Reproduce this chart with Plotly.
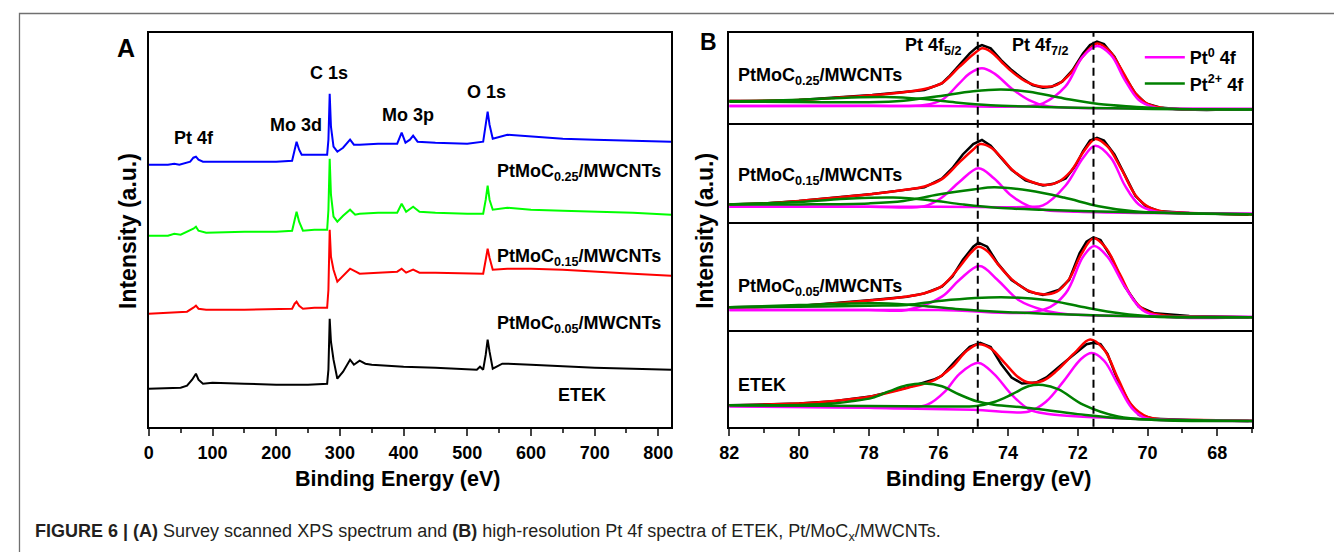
import plotly.graph_objects as go

W, H = 1342, 552
OFF = 8  # default page margin of the html body

# ---------------- Panel A : survey spectra (binding energy eV, intensity a.u. incl. stacking offset)
etek_sv_ev = [0, 40, 50, 60, 68, 74, 78, 85, 100, 150, 200, 250, 280, 282, 284, 286, 290, 296, 305, 316,
              322, 331, 340, 350, 400, 450, 500, 515, 520, 525, 529, 532, 535, 540, 555, 563, 600, 700, 820]
etek_sv = [38, 39, 39, 41, 47, 53, 47, 43, 44, 43, 42, 42, 43, 57, 108, 85, 67, 48, 55, 67,
           62, 66, 63, 62, 60, 59, 57, 57, 60, 57, 72, 87, 75, 58, 63, 63, 62, 59, 57]

m05_sv_ev = [0, 40, 60, 70, 74, 78, 90, 150, 200, 225, 229, 232, 236, 242, 260, 280, 282, 284, 286, 290,
             296, 305, 316, 325, 331, 360, 390, 397, 404, 415, 425, 450, 500, 525, 529, 532, 535, 540, 563, 600,
             650, 700, 760, 820]
m05_sv = [113, 114, 115, 119, 121, 118, 117, 117, 118, 118, 123, 125, 121, 118, 119, 119, 137, 197, 170, 157,
          145, 151, 158, 155, 153, 154, 155, 158, 154, 157, 154, 154, 153, 153, 167, 178, 169, 157, 158, 158,
          157, 155, 153, 151]

m15_sv_ev = [0, 30, 40, 50, 70, 74, 78, 90, 150, 200, 225, 229, 232, 236, 242, 260, 280, 282, 284, 286,
             290, 296, 305, 316, 324, 331, 360, 390, 397, 404, 415, 425, 450, 500, 525, 529, 532, 535, 540, 563,
             600, 650, 700, 760, 820]
m15_sv = [191, 191, 193, 192, 198, 200, 196, 194, 195, 195, 196, 207, 215, 205, 196, 197, 197, 217, 268, 232,
          210, 205, 211, 217, 212, 213, 214, 214, 223, 215, 220, 215, 214, 213, 213, 227, 241, 227, 217, 219,
          217, 216, 215, 214, 212]

m25_sv_ev = [0, 30, 40, 48, 65, 70, 74, 78, 85, 100, 150, 200, 225, 229, 232, 236, 240, 250, 270, 280,
             282, 284, 286, 290, 296, 305, 316, 322, 331, 360, 390, 397, 403, 410, 415, 422, 450, 500, 525, 529,
             532, 535, 540, 563, 600, 650, 700, 760, 820]
m25_sv = [262, 262, 263, 262, 265, 269, 270, 267, 265, 265, 265, 265, 266, 277, 285, 277, 272, 272, 272, 272,
          287, 333, 300, 280, 275, 279, 287, 282, 282, 283, 283, 294, 284, 287, 291, 285, 284, 283, 285, 302,
          315, 302, 288, 292, 290, 288, 287, 286, 285]

survey_ticks = [0, 100, 200, 300, 400, 500, 600, 700, 800]

# ---------------- Panel B : Pt 4f high resolution (eV, normalised intensity per sub-panel)
m25_raw_ev = [82, 81, 80, 79, 77.9, 76.9, 76.4, 75.9, 75.7, 75.4, 75.1, 74.9, 74.75, 74.5, 74.2, 73.9, 73.6, 73.3,
              73.0, 72.75, 72.45, 72.15, 71.85, 71.65, 71.45, 71.25, 70.95, 70.65, 70.35, 70.05, 69.65, 69.0,
              68.3, 67.8, 67.1]
m25_raw = [24.1, 24.1, 25.2, 27.8, 30.7, 34.4, 36.3, 43.7, 51.1, 64.1, 77.0, 83.7, 86.3, 82.6, 69.6, 58.5, 49.3, 41.9,
           38.9, 40.0, 45.6, 58.5, 77.0, 86.3, 90.0, 87.4, 73.3, 51.1, 32.6, 21.5, 17.0, 14.8, 14.1, 14.8, 14.8]
m25_fit_ev = [82, 81, 80, 79, 77.9, 76.9, 76.4, 75.9, 75.4, 74.9, 74.75, 74.5, 74.2, 73.9, 73.5, 73.0, 72.6, 72.2,
              71.85, 71.45, 71.1, 70.7, 70.35, 70.0, 69.6, 69.0, 68, 67]
m25_fit = [24.1, 24.4, 25.3, 27.5, 30.5, 34.5, 37.5, 44, 62, 79, 82.6, 79, 68, 57, 46, 40, 42, 55,
           74, 88, 80, 56, 33, 21, 16.5, 15, 14.6, 14.6]
m25_pt0a_ev = [82, 78, 76.4, 75.9, 75.4, 75.1, 74.75, 74.4, 73.9, 73.4, 72.9, 72.4, 70, 67]
m25_pt0a = [18.5, 18.8, 19.6, 25.2, 43.7, 54.8, 60.4, 54.8, 38.1, 25.2, 18.5, 17, 15.8, 15.6]
m25_pt0b_ev = [82, 76, 73.4, 73.0, 72.36, 71.86, 71.45, 71.05, 70.65, 70.25, 69.8, 69.3, 68, 67]
m25_pt0b = [18.5, 18.5, 18.5, 21.5, 40, 73.3, 85.2, 75.2, 47.4, 25.2, 17, 15.2, 14.8, 14.8]
m25_pt2a_ev = [82, 80, 78, 77, 76, 75, 74.2, 73.4, 72.4, 71.4, 70.4, 69.3, 67]
m25_pt2a = [23.3, 23.0, 22.8, 24.5, 29.5, 35, 37, 34.4, 27, 20.7, 17.8, 15.6, 14.8]
m25_pt2b_ev = [82, 80, 78.5, 77.5, 76.5, 75.5, 74.5, 73, 71, 69, 67]
m25_pt2b = [23.7, 25.5, 28, 28.5, 26.5, 22.5, 19.5, 17.5, 16, 15, 14.8]

m15_raw_ev = [82, 81, 80, 79, 77.9, 76.9, 76.4, 75.9, 75.6, 75.3, 75.0, 74.75, 74.5, 74.2, 73.9, 73.5, 73.0, 72.7,
              72.35, 72.05, 71.85, 71.65, 71.45, 71.25, 70.95, 70.65, 70.35, 70.05, 69.65, 68.8, 67.1]
m15_raw = [17.4, 18.5, 20.9, 24.4, 27.9, 32.4, 34.8, 43.6, 54.0, 67.9, 78.4, 82.6, 76.7, 64.5, 52.3, 41.8, 36.6, 38.3,
           43.6, 57.5, 71.4, 81.9, 84.7, 81.9, 67.9, 47.0, 26.1, 15.7, 10.5, 8.7, 7.0]
m15_fit_ev = [82, 81, 80, 79, 77.9, 76.9, 76.4, 75.9, 75.4, 75.0, 74.8, 74.5, 74.2, 73.9, 73.5, 73.0, 72.6, 72.2,
              71.85, 71.5, 71.15, 70.75, 70.35, 70.0, 69.6, 69, 68, 67]
m15_fit = [17.4, 18.5, 20.9, 24.2, 27.9, 32.5, 35.5, 43, 60, 73, 78.4, 75, 65, 53, 43, 37.3, 39.5, 51,
           70, 83.6, 76, 53, 27, 15.5, 10.5, 9, 8, 7.2]
m15_pt0a_ev = [82, 78, 76.4, 75.9, 75.4, 74.85, 74.4, 73.9, 73.4, 72.9, 72, 70, 67]
m15_pt0a = [15, 15.2, 15.7, 24.4, 40.1, 54, 43.6, 26.1, 15.7, 11.5, 10, 8.7, 8.0]
m15_pt0b_ev = [82, 76, 73.4, 73.0, 72.35, 71.85, 71.5, 71.05, 70.65, 70.25, 69.8, 68.8, 67]
m15_pt0b = [15, 15, 15, 16.5, 36.6, 64.5, 76.7, 64.5, 36.6, 17.4, 10.5, 8.7, 8.0]
m15_pt2a_ev = [82, 80, 78, 77, 76, 75, 74.4, 73.4, 72.4, 71.4, 70.4, 69.3, 67]
m15_pt2a = [17.4, 17.5, 18.5, 20.9, 27.5, 32.5, 34.8, 31.4, 24.4, 15.7, 10.5, 8.7, 7.5]
m15_pt2b_ev = [82, 80, 78.5, 77.3, 76.3, 75.3, 74.3, 73, 71, 69, 67]
m15_pt2b = [17.4, 20, 23.5, 24.4, 22, 17.5, 14, 12, 10, 8.5, 7.5]

m05_raw_ev = [82, 80, 77.9, 76.9, 76.4, 75.9, 75.6, 75.3, 75.0, 74.85, 74.6, 74.3, 73.9, 73.4, 73.0, 72.55, 72.25,
              71.95, 71.75, 71.55, 71.35, 71.05, 70.65, 70.25, 69.8, 68.8, 67.1]
m05_raw = [20.9, 22.2, 27.7, 30.8, 33.8, 40.0, 49.2, 64.6, 76.9, 80.6, 76.9, 61.5, 46.2, 35.4, 32.3, 36.9, 46.2,
           70.8, 81.5, 85.5, 83.1, 67.7, 40.0, 21.5, 15.4, 12.9, 11.7]
m05_fit_ev = [82, 80, 77.9, 76.9, 76.4, 75.9, 75.4, 75.05, 74.85, 74.6, 74.3, 73.9, 73.4, 73.0, 72.6, 72.25, 71.9,
              71.55, 71.2, 70.8, 70.4, 70.0, 69.5, 68.5, 67]
m05_fit = [20.9, 22.3, 27.5, 31, 34, 40.5, 58, 72, 76.9, 73, 61, 47, 36, 32.9, 35.5, 47, 70,
           84.6, 76, 52, 28, 17, 13.5, 12.5, 11.8]
m05_pt0a_ev = [82, 78, 76.9, 75.9, 75.4, 74.82, 74.3, 73.7, 73.0, 72.35, 70, 67]
m05_pt0a = [18.5, 18.5, 18.5, 30.8, 46.2, 59.1, 46.2, 27.7, 18.5, 14.8, 12.5, 12.3]
m05_pt0b_ev = [82, 76, 73.0, 72.35, 71.85, 71.53, 71.15, 70.65, 70.15, 69.65, 67]
m05_pt0b = [18.5, 18.5, 18.5, 33.8, 67.7, 77.5, 67.7, 40, 18.5, 12.9, 11.7]
m05_pt2a_ev = [82, 80, 78, 76.9, 75.9, 74.2, 72.9, 71.9, 70.8, 69.8, 67]
m05_pt2a = [21, 21.5, 22.5, 23.1, 27.1, 30.2, 27.7, 21.5, 15.4, 12.3, 11.7]
m05_pt2b_ev = [82, 80, 78.5, 77.7, 76.5, 75.5, 74, 72, 70, 67]
m05_pt2b = [21, 23, 24.5, 24.6, 22.5, 19.5, 16.5, 14, 12.5, 11.7]

etek_raw_ev = [82, 80, 79, 77.9, 76.9, 76.1, 75.9, 75.5, 75.1, 74.8, 74.5, 74.2, 73.9, 73.6, 73.2, 72.9, 72.5, 72.1,
               71.75, 71.55, 71.35, 71.15, 70.85, 70.55, 70.25, 69.8, 68.8, 67.1]
etek_raw = [22.1, 23.9, 26.3, 31.6, 40.4, 49.1, 52.6, 68.4, 82.5, 86.7, 82.5, 64.9, 50.9, 44.6, 45.6, 50.9, 63.2, 75.4,
            85.3, 86.7, 85.3, 75.4, 47.4, 26.3, 12.3, 8.1, 7.0, 6.0]
etek_fit_ev = [82, 80, 79, 77.9, 76.9, 76.1, 75.6, 75.2, 74.85, 74.5, 74.1, 73.7, 73.4, 73.0, 72.6, 72.1, 71.65,
               71.25, 70.85, 70.45, 70.0, 69.5, 68.5, 67]
etek_fit = [22.1, 23.9, 26.5, 31.5, 40, 48.5, 62, 78, 85.3, 81, 66, 51, 45.6, 47.5, 58, 76, 90.2,
            80, 50, 22, 10, 7.5, 6.8, 6.2]
etek_pt0a_ev = [82, 78, 76.8, 76.3, 75.8, 75.4, 74.85, 74.4, 73.9, 73.4, 72.9, 71, 68, 67]
etek_pt0a = [21.1, 20, 19.8, 23, 36.8, 54.4, 66, 54.4, 33.3, 18, 13.5, 9, 6.3, 6]
etek_pt0b_ev = [82, 78, 75, 73.4, 72.9, 72.4, 71.9, 71.6, 71.25, 70.85, 70.45, 70.05, 69, 67]
etek_pt0b = [21.1, 19.5, 17.5, 15.8, 26.3, 47.4, 70.2, 76.1, 68.4, 43.9, 19.3, 8.8, 6.7, 6]
etek_pt2a_ev = [82, 80, 79, 78.5, 77.9, 77.4, 76.9, 76.4, 75.9, 75.4, 74.9, 74.4, 73.4, 72, 70.5, 67]
etek_pt2a = [22.1, 22.5, 23.9, 26.3, 29.8, 36.8, 42.8, 44.6, 41.8, 33.3, 26.3, 22.8, 19.3, 13, 8.1, 6]
etek_pt2b_ev = [82, 78, 76, 74.9, 74.4, 73.9, 73.4, 73.0, 72.55, 71.85, 70.85, 69.8, 67]
etek_pt2b = [22.1, 21.5, 21, 21.5, 25.5, 33.3, 42.1, 43.2, 38.6, 22.8, 10.5, 7.0, 6]

pt0_peak_ev = [74.87, 71.55]
hr_ticks = [82, 80, 78, 76, 74, 72, 70, 68]

# ---------------- helpers
FONT = "Liberation Sans, Arial, sans-serif"
FW, FH = W - OFF, H - OFF


def px(x):
    return (x - OFF) / FW


def py(y):
    return 1 - (y - OFF) / FH


fig = go.Figure()

# Panel A traces
for ev, val, col in [(etek_sv_ev, etek_sv, "#000000"), (m05_sv_ev, m05_sv, "#FF0000"),
                     (m15_sv_ev, m15_sv, "#00FF00"), (m25_sv_ev, m25_sv, "#0000FF")]:
    fig.add_trace(go.Scatter(x=ev, y=val, mode="lines", line=dict(color=col, width=2),
                             xaxis="x", yaxis="y", showlegend=False, hoverinfo="skip"))

# Panel B traces (sub-panels, bottom to top)
samples = [
    ("2", etek_raw_ev, etek_raw, etek_fit_ev, etek_fit,
     [(etek_pt0a_ev, etek_pt0a), (etek_pt0b_ev, etek_pt0b)], [(etek_pt2a_ev, etek_pt2a), (etek_pt2b_ev, etek_pt2b)]),
    ("3", m05_raw_ev, m05_raw, m05_fit_ev, m05_fit,
     [(m05_pt0a_ev, m05_pt0a), (m05_pt0b_ev, m05_pt0b)], [(m05_pt2a_ev, m05_pt2a), (m05_pt2b_ev, m05_pt2b)]),
    ("4", m15_raw_ev, m15_raw, m15_fit_ev, m15_fit,
     [(m15_pt0a_ev, m15_pt0a), (m15_pt0b_ev, m15_pt0b)], [(m15_pt2a_ev, m15_pt2a), (m15_pt2b_ev, m15_pt2b)]),
    ("5", m25_raw_ev, m25_raw, m25_fit_ev, m25_fit,
     [(m25_pt0a_ev, m25_pt0a), (m25_pt0b_ev, m25_pt0b)], [(m25_pt2a_ev, m25_pt2a), (m25_pt2b_ev, m25_pt2b)]),
]
for ax, rx, ry, fx, fy, pt0, pt2 in samples:
    xa, ya = "x" + ax, "y" + ax
    fig.add_trace(go.Scatter(x=rx, y=ry, mode="lines", line=dict(color="black", width=2.5),
                             xaxis=xa, yaxis=ya, showlegend=False, hoverinfo="skip"))
    fig.add_trace(go.Scatter(x=fx, y=fy, mode="lines", line=dict(color="#FF0000", width=2.5, shape="spline"),
                             xaxis=xa, yaxis=ya, showlegend=False, hoverinfo="skip"))
    for i, (cx, cy) in enumerate(pt0):
        fig.add_trace(go.Scatter(x=cx, y=cy, mode="lines", line=dict(color="#FF00FF", width=2.5, shape="spline"),
                                 xaxis=xa, yaxis=ya, hoverinfo="skip", name="Pt<sup>0</sup> 4f",
                                 legendrank=1, showlegend=(ax == "5" and i == 0)))
    for i, (cx, cy) in enumerate(pt2):
        fig.add_trace(go.Scatter(x=cx, y=cy, mode="lines", line=dict(color="#008000", width=2.5, shape="spline"),
                                 xaxis=xa, yaxis=ya, hoverinfo="skip", name="Pt<sup>2+</sup> 4f",
                                 legendrank=2, showlegend=(ax == "5" and i == 0)))

frame = dict(showline=True, linewidth=2, linecolor="black", showgrid=False, zeroline=False)
tickfont = dict(family=FONT, size=18, color="black", weight="bold")

layout = dict(
    width=FW, height=FH, margin=dict(l=0, r=0, t=0, b=0),
    paper_bgcolor="white", plot_bgcolor="white",
    font=dict(family=FONT, size=16, color="black"),
    showlegend=True,
    legend=dict(x=px(1140), y=py(39), xanchor="left", yanchor="top", bgcolor="rgba(0,0,0,0)",
                font=dict(family=FONT, size=18, color="black", weight="bold"), itemwidth=40,
                tracegroupgap=0),
    xaxis=dict(domain=[px(140), px(667)], range=[0, 820], anchor="y", mirror=True,
               tickmode="array", tickvals=survey_ticks, ticks="outside", ticklen=7, tickwidth=2,
               minor=dict(dtick=50, tick0=0, ticks="outside", ticklen=4, tickwidth=2),
               tickfont=tickfont, ticklabelstandoff=2, **frame),
    yaxis=dict(domain=[py(426.7), py(33)], range=[0, 393.7], anchor="x", mirror=True,
               showticklabels=False, ticks="", **frame),
)
subdom = {"2": (426.7, 330), "3": (330, 221.7), "4": (221.7, 122.7), "5": (122.7, 32.7)}
for ax, (yb, yt) in subdom.items():
    xd = dict(domain=[px(725.7), px(1253.3)], range=[82, 67], anchor="y" + ax,
              mirror=(ax == "5"), **frame)
    if ax == "2":
        xd.update(tickmode="array", tickvals=hr_ticks, ticks="outside", ticklen=7, tickwidth=2,
                  minor=dict(dtick=1, tick0=0, ticks="outside", ticklen=4, tickwidth=2),
                  tickfont=tickfont, ticklabelstandoff=2)
    else:
        xd.update(showticklabels=False, ticks="")
    layout["xaxis" + ax] = xd
    layout["yaxis" + ax] = dict(domain=[py(yb), py(yt)], range=[0, 100], anchor="x" + ax, mirror=True,
                                showticklabels=False, ticks="", **frame)
fig.update_layout(**layout)

# dashed guide lines at Pt0 peak positions
for pos in pt0_peak_ev:
    fig.add_shape(type="line", xref="x2", yref="paper", x0=pos, x1=pos, y0=py(426.7), y1=py(32.7),
                  line=dict(color="black", width=2, dash="8px,5px"))

# outer figure border
fig.add_shape(type="rect", xref="paper", yref="paper", x0=px(9.5), x1=px(1370), y0=py(580), y1=py(13.5),
              line=dict(color="#707070", width=1.3))


def label(text, x, y, size=18, xanchor="center", angle=0, color="black", bold=True):
    t = "<b>%s</b>" % text if bold else text
    fig.add_annotation(text=t, x=px(x), y=py(y), xref="paper", yref="paper", showarrow=False,
                       xanchor=xanchor, yanchor="middle", textangle=angle,
                       font=dict(family=FONT, size=size, color=color))


# Panel A texts
label("A", 117, 48, size=25)
label("Pt 4f", 186, 138)
label("Mo 3d", 289, 125)
label("C 1s", 322, 73)
label("Mo 3p", 402, 115)
label("O 1s", 481, 92)
label("PtMoC<sub>0.25</sub>/MWCNTs", 659, 172, xanchor="right")
label("PtMoC<sub>0.15</sub>/MWCNTs", 659, 258, xanchor="right")
label("PtMoC<sub>0.05</sub>/MWCNTs", 659, 324, xanchor="right")
label("ETEK", 577, 395)
label("Intensity (a.u.)", 119, 231, size=23, angle=-90)
label("Binding Energy (eV)", 391, 479, size=21.5)

# Panel B texts
label("B", 705, 42, size=23)
label("Pt 4f<sub>5/2</sub>", 932, 47)
label("Pt 4f<sub>7/2</sub>", 1040, 47)
label("PtMoC<sub>0.25</sub>/MWCNTs", 733, 76, xanchor="left")
label("PtMoC<sub>0.15</sub>/MWCNTs", 733, 176, xanchor="left")
label("PtMoC<sub>0.05</sub>/MWCNTs", 733, 287, xanchor="left")
label("ETEK", 733, 385, xanchor="left")
label("Intensity (a.u.)", 701, 231, size=23, angle=-90)
label("Binding Energy (eV)", 987, 479, size=21.5)

# caption
fig.add_annotation(text="<b>FIGURE 6 | (A)</b> Survey scanned XPS spectrum and <b>(B)</b> high-resolution Pt 4f "
                        "spectra of ETEK, Pt/MoC<sub>x</sub>/MWCNTs.",
                   x=px(23), y=py(532), xref="paper", yref="paper", showarrow=False,
                   xanchor="left", yanchor="middle", font=dict(family=FONT, size=18, color="#231F20"))

fig.write_html("out.html")
